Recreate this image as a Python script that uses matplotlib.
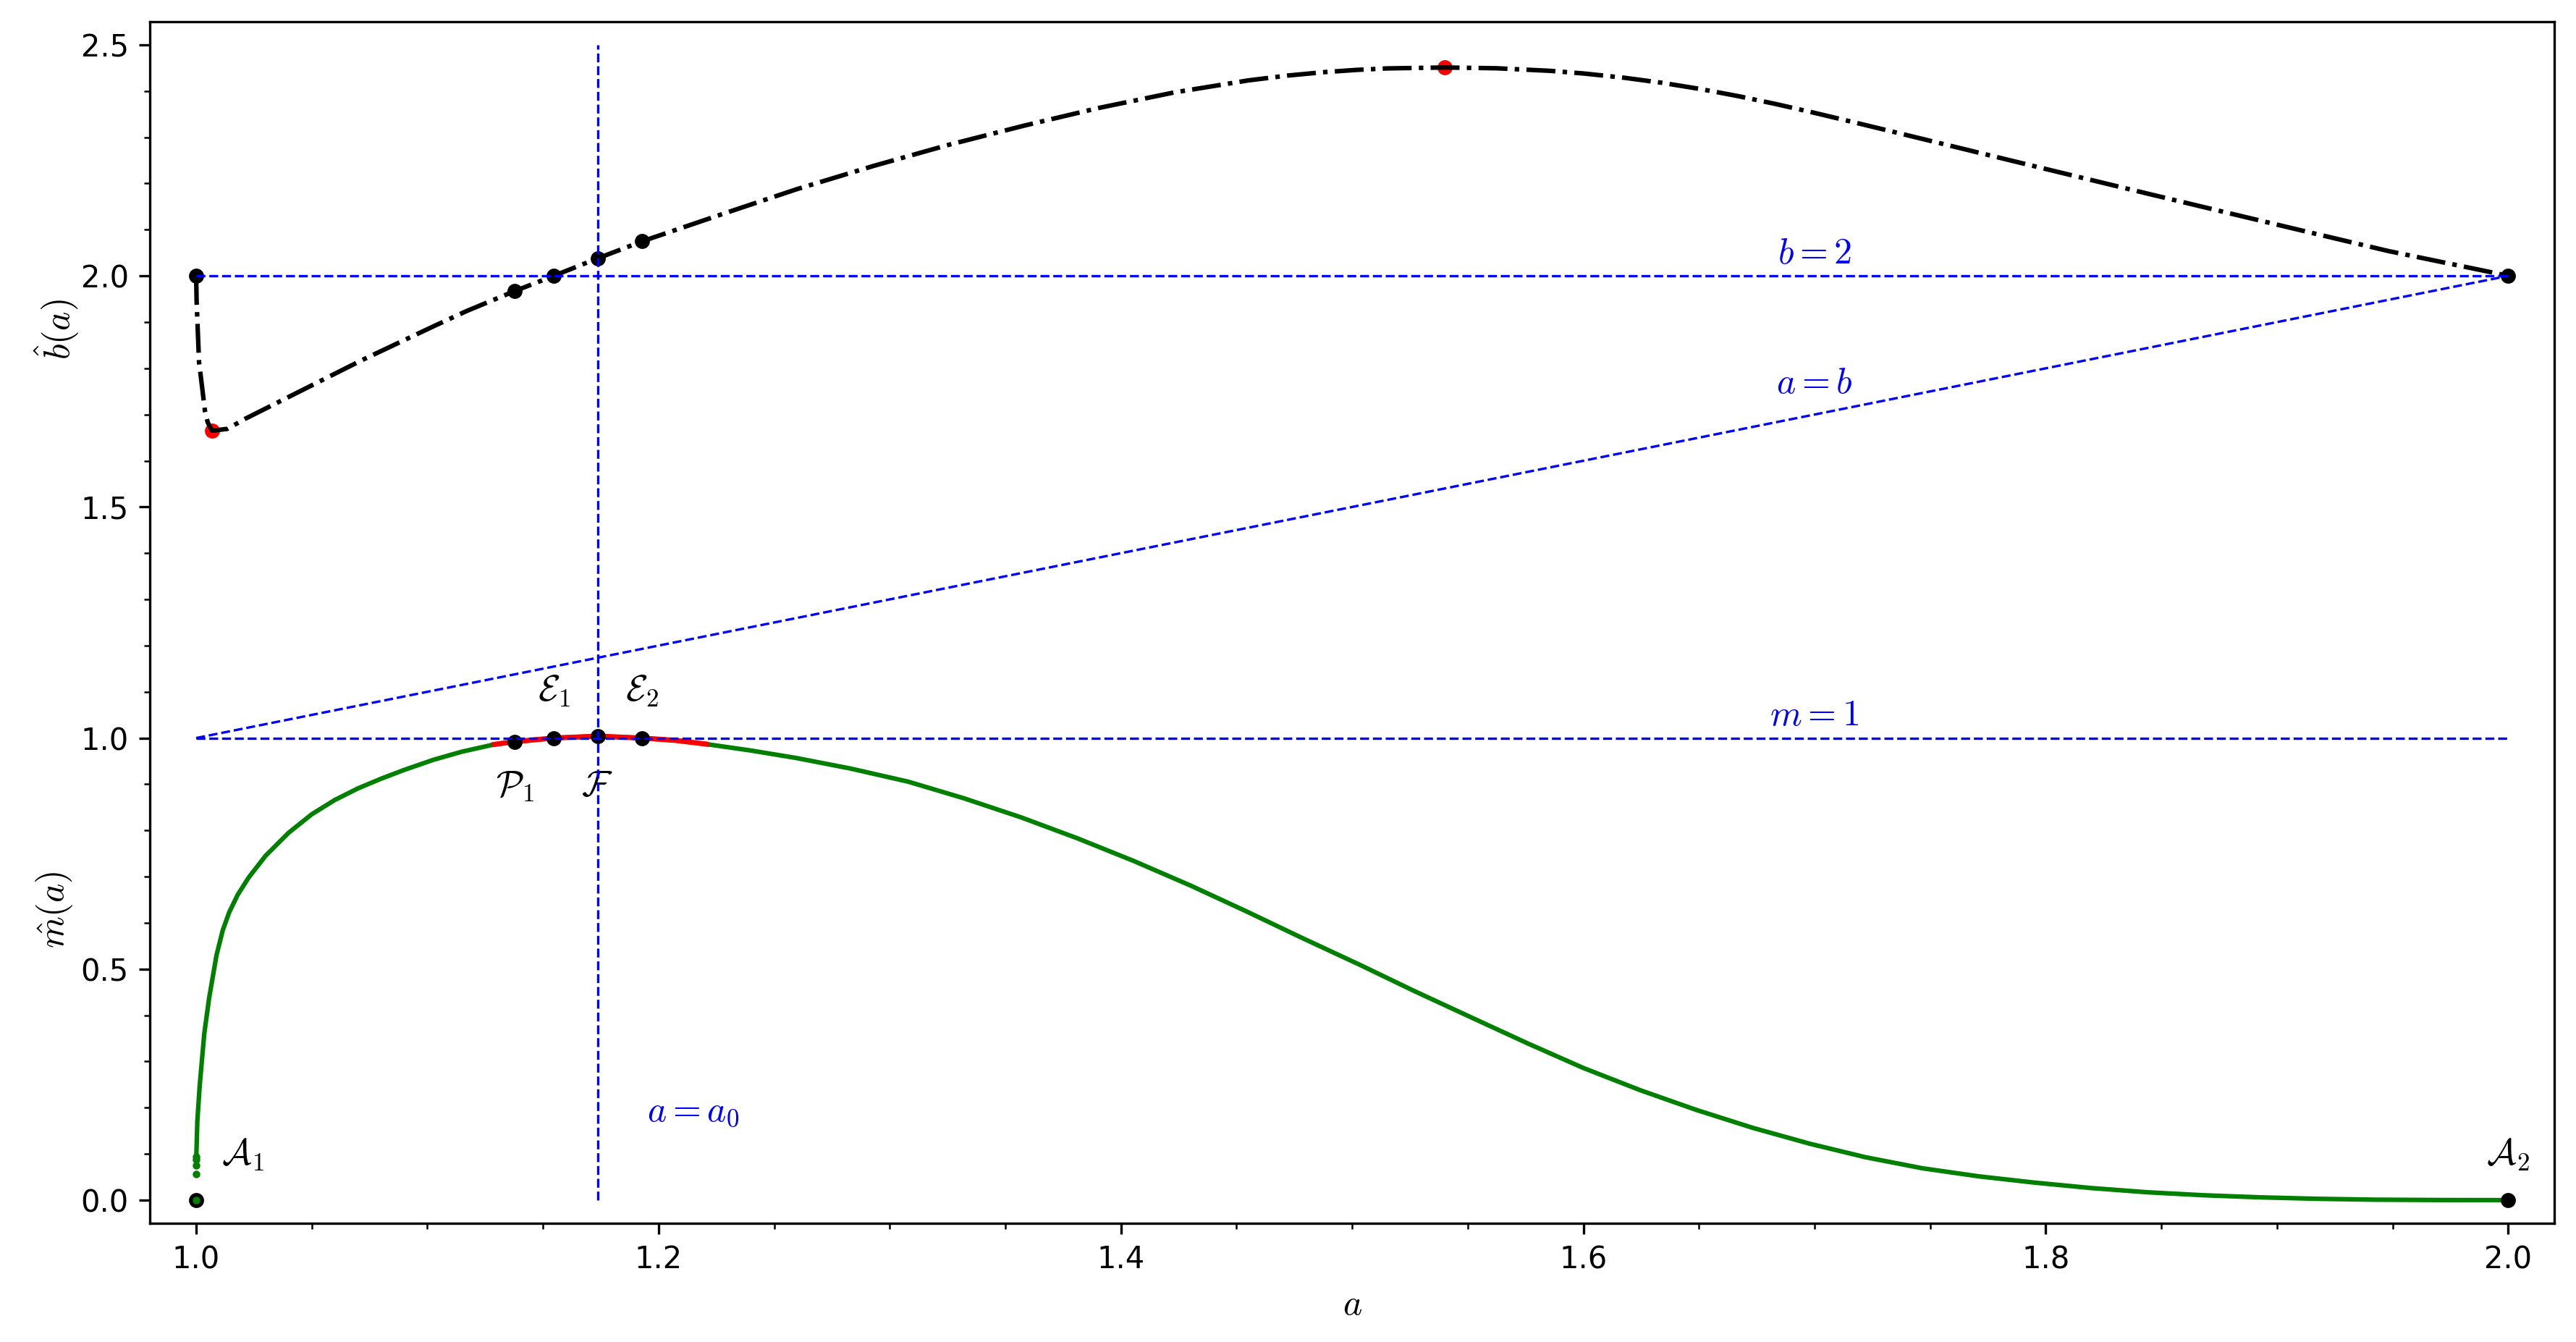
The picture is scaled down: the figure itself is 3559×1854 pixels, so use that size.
import matplotlib
matplotlib.use('Agg')
import matplotlib.pyplot as plt

plt.rcParams['mathtext.fontset'] = 'cm'

# ---------------- data ----------------
# b-hat(a) curve
b_a = [1.0, 1.0002, 1.00125, 1.0025, 1.0038, 1.0050, 1.0069, 1.0135, 1.0213,
       1.040, 1.0714, 1.1027, 1.117, 1.1377, 1.1546, 1.1737, 1.193, 1.2277,
       1.260, 1.293, 1.325, 1.358, 1.390, 1.423, 1.455, 1.472, 1.488, 1.502,
       1.515, 1.540, 1.5625, 1.5855, 1.600, 1.618, 1.634, 1.6504, 1.667,
       1.683, 1.699, 1.7156, 1.732, 1.748, 1.781, 1.813, 1.846, 1.878, 1.911,
       1.9483, 1.9932, 2.0]
b_v = [2.0, 1.944, 1.813, 1.762, 1.708, 1.683, 1.665, 1.669, 1.691,
       1.738, 1.817, 1.891, 1.924, 1.967, 2.0, 2.038, 2.075, 2.134,
       2.188, 2.238, 2.283, 2.325, 2.363, 2.397, 2.423, 2.4335, 2.441, 2.4458,
       2.449, 2.451, 2.4493, 2.4438, 2.4381, 2.4286, 2.4179, 2.4046, 2.389,
       2.3722, 2.354, 2.3342, 2.3143, 2.2948, 2.2545, 2.2156, 2.1757, 2.1373,
       2.0979, 2.0537, 2.0074, 2.0]

# m-hat(a) curve
m_a = [1.0001, 1.0005, 1.0015, 1.0035, 1.0056, 1.0088, 1.0115, 1.0143,
       1.018, 1.0227, 1.030, 1.040, 1.050, 1.060, 1.070, 1.080, 1.090,
       1.1027, 1.115, 1.129, 1.1377, 1.1546, 1.1737, 1.1927, 1.207, 1.2207,
       1.240, 1.2593, 1.283, 1.308, 1.332, 1.3567, 1.381, 1.4055, 1.430,
       1.454, 1.478, 1.503, 1.527, 1.5517, 1.576, 1.600, 1.6245, 1.649,
       1.6735, 1.698, 1.722, 1.7466, 1.771, 1.795, 1.8195, 1.844, 1.8685,
       1.893, 1.9175, 1.942, 1.971, 2.0]
m_v = [0.10, 0.17, 0.246, 0.36, 0.437, 0.53, 0.584, 0.623,
       0.661, 0.698, 0.745, 0.795, 0.835, 0.866, 0.891, 0.912, 0.931,
       0.953, 0.9705, 0.9862, 0.992, 1.0, 1.004, 1.0, 0.995, 0.9868,
       0.9729, 0.957, 0.934, 0.9055, 0.8697, 0.8285, 0.7833, 0.734, 0.681,
       0.6255, 0.5682, 0.510, 0.4522, 0.395, 0.339, 0.286, 0.2381, 0.195,
       0.1561, 0.122, 0.0929, 0.069, 0.0515, 0.038, 0.0262, 0.017, 0.0105,
       0.006, 0.0029, 0.001, 0.0002, 0.0]
# isolated samples of m-hat just to the right of a = 1
m_tail_a = [1.0, 1.00002, 1.00004, 1.00006, 1.00008]
m_tail_v = [0.0, 0.057, 0.075, 0.087, 0.0945]
# red part of the m-hat curve
red_lo, red_hi = 1.129, 1.2207

# marked points
pts_a = [1.1377, 1.1546, 1.1737, 1.1927]
pts_b = [1.967, 2.0, 2.038, 2.075]
pts_m = [0.992, 1.0, 1.004, 1.0]
end_a = [1.0, 2.0]
end_b = [2.0, 2.0]
end_m = [0.0, 0.0]
bmin_a, bmin_v = 1.0069, 1.665
bmax_a, bmax_v = 1.540, 2.451
a0 = 1.1737

# ---------------- figure ----------------
fig = plt.figure(figsize=(3559 / 300, 1854 / 300), dpi=300)
ax = fig.add_axes([0.0582, 0.0885, 0.9916 - 0.0582, 0.9838 - 0.0885])

# m-hat
ax.plot(m_a, m_v, color='green', lw=1.5, zorder=2)
ax.plot(m_tail_a[1:], m_tail_v[1:], ls='none', marker='.', ms=3, color='green',
        zorder=2)
ra = [a for a in m_a if red_lo <= a <= red_hi]
rv = [v for a, v in zip(m_a, m_v) if red_lo <= a <= red_hi]
ax.plot(ra, rv, color='red', lw=1.7, zorder=2.1)

# b-hat
ax.plot([bmin_a, bmax_a], [bmin_v, bmax_v], ls='none', marker='o', ms=4,
        color='red', zorder=1.9)
ax.plot(b_a, b_v, color='black', lw=1.5, ls='-.', zorder=2.2)

# black dots
ax.plot(pts_a + end_a, pts_b + end_b, ls='none', marker='o', ms=4,
        color='black', zorder=3)
ax.plot(pts_a + end_a, pts_m + end_m, ls='none', marker='o', ms=4,
        color='black', zorder=3)
ax.plot(m_tail_a[:1], m_tail_v[:1], ls='none', marker='.', ms=3,
        color='green', zorder=3.1)

# reference lines
kw = dict(color='blue', ls='--', lw=0.8, zorder=4)
ax.plot([1.0, 2.0], [2.0, 2.0], **kw)
ax.plot([1.0, 2.0], [1.0, 2.0], **kw)
ax.plot([1.0, 2.0], [1.0, 1.0], **kw)
ax.plot([a0, a0], [0.0, 2.5], **kw)

# labels on lines
tk = dict(color='blue', fontsize=12, ha='center', va='baseline')
ax.text(1.70, 2.027, r'$b=2$', **tk)
ax.text(1.70, 1.746, r'$a=b$', **tk)
ax.text(1.70, 1.027, r'$m=1$', **tk)
ax.text(1.195, 0.172, r'$a=a_0$', color='blue', fontsize=12, ha='left',
        va='baseline')

# point labels
pk = dict(color='black', fontsize=12, ha='center', va='baseline')
ax.text(1.155, 1.08, r'$\mathcal{E}_1$', **pk)
ax.text(1.193, 1.08, r'$\mathcal{E}_2$', **pk)
ax.text(1.138, 0.875, r'$\mathcal{P}_1$', **pk)
ax.text(1.1735, 0.875, r'$\mathcal{F}$', **pk)
ax.text(1.011, 0.076, r'$\mathcal{A}_1$', color='black', fontsize=12,
        ha='left', va='baseline')
ax.text(2.0, 0.076, r'$\mathcal{A}_2$', **pk)

# axis labels
ax.text(0.94, 1.884, r'$\hat{b}(a)$', fontsize=12, rotation=90, ha='center',
        va='center', clip_on=False)
ax.text(0.9386, 0.628, r'$\hat{m}(a)$', fontsize=12, rotation=90, ha='center',
        va='center', clip_on=False)
ax.set_xlabel(r'$a$', fontsize=12)

ax.set_xlim(0.98, 2.02)
ax.set_ylim(-0.05, 2.55)
ax.set_xticks([1.0, 1.2, 1.4, 1.6, 1.8, 2.0])
ax.set_yticks([0.0, 0.5, 1.0, 1.5, 2.0, 2.5])
ax.minorticks_on()

fig.savefig('out.png', dpi=300)
